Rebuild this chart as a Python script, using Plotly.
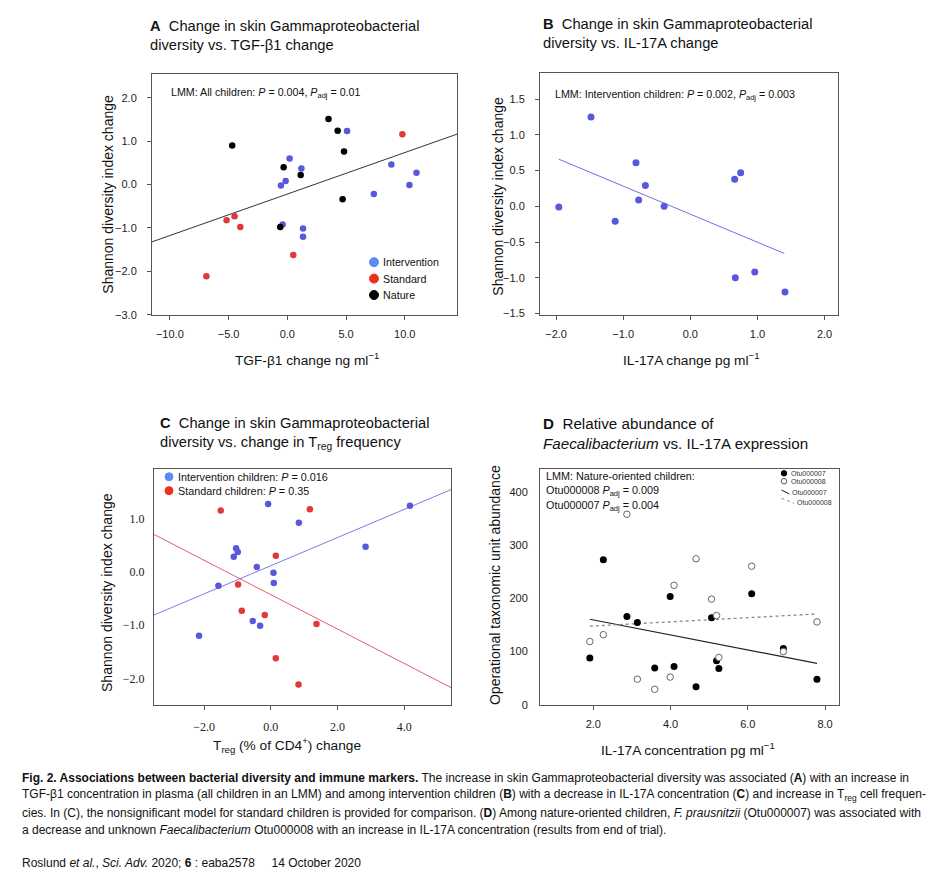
import plotly.graph_objects as go

W, H = 935, 888

def px(x):
    return x / W

def py(y):
    return 1 - y / H

# ---------------- Panel A data ----------------
a_int_x = [5.09, 0.20, 1.20, -0.14, -0.54, 8.86, 11.0, 10.4, 7.37, -0.40, 1.34, 1.34]
a_int_y = [1.23, 0.60, 0.37, 0.08, -0.02, 0.46, 0.27, -0.01, -0.22, -0.92, -1.01, -1.20]
a_std_x = [9.80, -5.17, -4.49, -4.00, 0.51, -6.89]
a_std_y = [1.16, -0.82, -0.73, -0.98, -1.62, -2.11]
a_nat_x = [-4.69, 3.51, 4.29, 4.83, -0.31, 1.14, 4.71, -0.60]
a_nat_y = [0.90, 1.51, 1.24, 0.76, 0.40, 0.22, -0.34, -0.98]
a_fit_x = [-11.52, 14.45]
a_fit_y = [-1.32, 1.16]
a_legend = ["Intervention", "Standard", "Nature"]

# ---------------- Panel B data ----------------
b_x = [-1.96, -1.48, -1.12, -0.81, -0.77, -0.67, -0.39, 0.66, 0.75, 0.67, 0.96, 1.41]
b_y = [-0.01, 1.25, -0.21, 0.61, 0.09, 0.29, 0.00, 0.38, 0.47, -1.00, -0.92, -1.20]
b_fit_x = [-1.96, 1.40]
b_fit_y = [0.66, -0.66]

# ---------------- Panel C data ----------------
c_int_x = [-0.08, 0.84, 2.84, 4.17, -1.04, -0.99, -1.11, -0.42, 0.08, 0.09, -1.57, -0.54, -0.32, -2.15]
c_int_y = [1.27, 0.92, 0.47, 1.24, 0.44, 0.37, 0.28, 0.09, -0.02, -0.21, -0.26, -0.92, -1.01, -1.20]
c_std_x = [-1.50, 1.17, 0.15, -0.98, -0.87, -0.18, 1.37, 0.15, 0.83]
c_std_y = [1.15, 1.17, 0.30, -0.24, -0.73, -0.81, -0.98, -1.62, -2.11]
c_int_fit_x = [-3.50, 5.40]
c_int_fit_y = [-0.81, 1.54]
c_std_fit_x = [-3.50, 5.40]
c_std_fit_y = [0.70, -2.17]
c_legend = ["Intervention children: <i>P</i> = 0.016", "Standard children: <i>P</i> = 0.35"]

# ---------------- Panel D data ----------------
d_x = [1.91, 2.26, 2.87, 3.14, 3.59, 3.99, 4.09, 4.66, 5.06, 5.19, 5.25, 6.10, 6.92, 7.79]
d_otu7 = [88, 273, 166, 155, 69, 204, 72, 34, 164, 83, 68, 209, 106, 48]
d_x8 = [1.91, 2.26, 2.87, 3.14, 3.59, 4.09, 3.99, 4.66, 5.06, 5.19, 5.25, 6.10, 6.92, 7.79]
d_otu8 = [119, 132, 359, 48, 29, 225, 52, 275, 199, 168, 89, 261, 100, 156]
d_fit7_x = [1.91, 7.79]
d_fit7_y = [161, 78]
d_fit8_x = [1.91, 7.79]
d_fit8_y = [148, 171]
d_legend = ["Otu000007", "Otu000008"]

BLUE = "#5858dc"
BLUE_LEG = "#5b8cf0"
RED = "#e2383a"
RED_LEG = "#f0301e"
SANS = "Liberation Sans"
SERIF = "Liberation Serif"
AX = "#555555"

fig = go.Figure()

# Panel A
fig.add_trace(go.Scatter(x=a_fit_x, y=a_fit_y, mode="lines", line=dict(color="#333333", width=1),
                         xaxis="x", yaxis="y", showlegend=False, hoverinfo="skip"))
fig.add_trace(go.Scatter(x=a_int_x, y=a_int_y, mode="markers", marker=dict(color=BLUE, size=6.5),
                         xaxis="x", yaxis="y", showlegend=False))
fig.add_trace(go.Scatter(x=a_std_x, y=a_std_y, mode="markers", marker=dict(color=RED, size=6.5),
                         xaxis="x", yaxis="y", showlegend=False))
fig.add_trace(go.Scatter(x=a_nat_x, y=a_nat_y, mode="markers", marker=dict(color="#000000", size=6.5),
                         xaxis="x", yaxis="y", showlegend=False))

# Panel B
fig.add_trace(go.Scatter(x=b_fit_x, y=b_fit_y, mode="lines", line=dict(color="#7070e4", width=1),
                         xaxis="x2", yaxis="y2", showlegend=False, hoverinfo="skip"))
fig.add_trace(go.Scatter(x=b_x, y=b_y, mode="markers", marker=dict(color=BLUE, size=7),
                         xaxis="x2", yaxis="y2", showlegend=False))

# Panel C
fig.add_trace(go.Scatter(x=c_int_fit_x, y=c_int_fit_y, mode="lines", line=dict(color="#7c7ce8", width=1),
                         xaxis="x3", yaxis="y3", showlegend=False, hoverinfo="skip"))
fig.add_trace(go.Scatter(x=c_std_fit_x, y=c_std_fit_y, mode="lines", line=dict(color="#e0606a", width=1),
                         xaxis="x3", yaxis="y3", showlegend=False, hoverinfo="skip"))
fig.add_trace(go.Scatter(x=c_int_x, y=c_int_y, mode="markers", marker=dict(color=BLUE, size=6.5),
                         xaxis="x3", yaxis="y3", showlegend=False))
fig.add_trace(go.Scatter(x=c_std_x, y=c_std_y, mode="markers", marker=dict(color=RED, size=6.5),
                         xaxis="x3", yaxis="y3", showlegend=False))

# Panel D
fig.add_trace(go.Scatter(x=d_fit7_x, y=d_fit7_y, mode="lines", line=dict(color="#222222", width=1.2),
                         xaxis="x4", yaxis="y4", showlegend=False, hoverinfo="skip"))
fig.add_trace(go.Scatter(x=d_fit8_x, y=d_fit8_y, mode="lines", line=dict(color="#888888", width=1.3, dash="dot"),
                         xaxis="x4", yaxis="y4", showlegend=False, hoverinfo="skip"))
fig.add_trace(go.Scatter(x=d_x, y=d_otu7, mode="markers", marker=dict(color="#000000", size=7),
                         xaxis="x4", yaxis="y4", showlegend=False))
fig.add_trace(go.Scatter(x=d_x8, y=d_otu8, mode="markers",
                         marker=dict(color="white", size=6.5, line=dict(color="#666666", width=1)),
                         xaxis="x4", yaxis="y4", showlegend=False))


def axis(domain, rng, dtick, fmt, font, anchor, ticks=True, standoff=0):
    return dict(domain=domain, range=rng, dtick=dtick, tickformat=fmt, anchor=anchor,
                showline=True, mirror=True, linecolor=AX, linewidth=1, showgrid=False, zeroline=False,
                ticks="outside" if ticks else "", ticklen=4, tickcolor=AX, tickfont=font,
                ticklabelstandoff=standoff)

fA = dict(family=SANS, size=11, color="#222")
fC = dict(family=SERIF, size=12, color="#222")

layout = dict(
    width=W, height=H, margin=dict(l=0, r=0, t=0, b=0),
    paper_bgcolor="white", plot_bgcolor="white", showlegend=False,
    xaxis=axis([px(152), px(457)], [-11.52, 14.45], 5, ".1f", fA, "y", standoff=5),
    yaxis=axis([py(317), py(74)], [-3.001, 2.556], 1, ".1f", fA, "x", standoff=8),
    xaxis2=axis([px(540), px(838)], [-2.24, 2.2], 1, ".1f", fA, "y2", standoff=5),
    yaxis2=axis([py(317), py(73)], [-1.52, 1.874], 0.5, ".1f", fA, "x2", standoff=8),
    xaxis3=axis([px(154), px(451)], [-3.5, 5.4], 2, ".1f", fC, "y3", standoff=6),
    yaxis3=axis([py(710), py(472)], [-2.5, 1.93], 1, ".1f", fC, "x3", ticks=False, standoff=6),
    xaxis4=axis([px(540), px(839)], [0.62, 8.36], 2, ".1f", fA, "y4", standoff=5),
    yaxis4=axis([py(710), py(472)], [-1, 444.6], 100, "d", fA, "x4", ticks=False, standoff=9),
)

ann = []
shapes = []

def text(x, y, s, size=11, xanchor="left", family=SANS, angle=0, color="#111"):
    ann.append(dict(x=px(x), y=py(y), xref="paper", yref="paper", text=s, showarrow=False,
                    xanchor=xanchor, yanchor="middle", textangle=angle, align="left",
                    font=dict(family=family, size=size, color=color)))

def dot(x, y, d, fill, line=None):
    shapes.append(dict(type="circle", xref="paper", yref="paper", xsizemode="pixel", ysizemode="pixel",
                       xanchor=px(x), yanchor=py(y), x0=-d / 2, x1=d / 2, y0=-d / 2, y1=d / 2,
                       fillcolor=fill, line=dict(color=line or fill, width=1)))

# Panel titles
TS = 14.7
text(148, 35.5, "<b>A</b>  Change in skin Gammaproteobacterial<br>diversity vs. TGF-β1 change", TS)
text(541, 33.5, "<b>B</b>  Change in skin Gammaproteobacterial<br>diversity vs. IL-17A change", TS)
text(158, 436, "<b>C</b>  Change in skin Gammaproteobacterial<br>diversity vs. change in T<sub>reg</sub> frequency", TS)
text(541, 436, "<b>D</b>  Relative abundance of<br><i>Faecalibacterium</i> vs. IL-17A expression", 15.2)

# Axis titles
text(108, 196, "Shannon diversity index change", 14, "center", angle=-90)
text(307, 361, "TGF-β1 change ng ml<sup>−1</sup>", 13.7, "center")
text(498, 198, "Shannon diversity index change", 14, "center", angle=-90)
text(691, 361, "IL-17A change pg ml<sup>−1</sup>", 13.7, "center")
text(107, 597, "Shannon diversity index change", 14, "center", angle=-90)
text(287, 750, "T<sub>reg</sub> (% of CD4<sup>+</sup>) change", 13.7, "center")
text(495, 589, "Operational taxonomic unit abundance", 14, "center", angle=-90)
text(688, 754, "IL-17A concentration pg ml<sup>−1</sup>", 13.7, "center")

# Stats annotations
text(169, 94, "LMM: All children: <i>P</i> = 0.004, <i>P</i><sub>adj</sub> = 0.01", 10.7)
text(553, 96, "LMM: Intervention children: <i>P</i> = 0.002, <i>P</i><sub>adj</sub> = 0.003", 10.7)
text(544, 479, "LMM: Nature-oriented children:", 10.8)
text(544, 494, "Otu000008 <i>P</i><sub>adj</sub> = 0.009", 10.8)
text(544, 509, "Otu000007 <i>P</i><sub>adj</sub> = 0.004", 10.8)

# Legend A
for i, (lab, col) in enumerate(zip(a_legend, [BLUE_LEG, RED_LEG, "#000000"])):
    yy = 264 + i * 16.5
    dot(374, yy, 9, col)
    text(381, yy, lab, 10.7)

# Legend C
for i, (lab, col) in enumerate(zip(c_legend, [BLUE_LEG, RED_LEG])):
    yy = 480 + i * 14
    dot(169, yy, 8, col)
    text(176, yy, lab, 10.8)

# Legend D
dot(784, 476.5, 5.5, "#000000")
text(789, 476.5, d_legend[0], 7, color="#333")
dot(784, 484.5, 5.5, "white", "#555555")
text(789, 484.5, d_legend[1], 7, color="#333")
shapes.append(dict(type="line", xref="paper", yref="paper", x0=px(781.5), y0=py(493.3), x1=px(789.3), y1=py(497.3),
                   line=dict(color="#222", width=1)))
text(789.5, 495.5, d_legend[0], 7, color="#333")
shapes.append(dict(type="line", xref="paper", yref="paper", x0=px(781.5), y0=py(501.7), x1=px(794), y1=py(506.7),
                   line=dict(color="#888", width=1, dash="dot")))
text(794.5, 505.5, d_legend[1], 7, color="#333")

# Caption
CAP = "Liberation Sans"
cap_lines = [
    "<b>Fig. 2. Associations between bacterial diversity and immune markers.</b> The increase in skin Gammaproteobacterial diversity was associated (<b>A</b>) with an increase in",
    "TGF-β1 concentration in plasma (all children in an LMM) and among intervention children (<b>B</b>) with a decrease in IL-17A concentration (<b>C</b>) and increase in T<sub>reg</sub> cell frequen-",
    "cies. In (C), the nonsignificant model for standard children is provided for comparison. (<b>D</b>) Among nature-oriented children, <i>F. prausnitzii</i> (Otu000007) was associated with",
    "a decrease and unknown <i>Faecalibacterium</i> Otu000008 with an increase in IL-17A concentration (results from end of trial).",
]
for i, s in enumerate(cap_lines):
    text(20, 783 + i * 17.6, s, 12, family=CAP, color="#111")
text(20, 869, "Roslund <i>et al.</i>, <i>Sci. Adv.</i> 2020; <b>6</b> : eaba2578     14 October 2020", 12,
     family=CAP, color="#111")

layout["annotations"] = ann
layout["shapes"] = shapes
fig.update_layout(**layout)
fig.write_html("out.html", config={"displayModeBar": False},
               post_script="document.body.style.margin='0';document.body.style.padding='0';")
